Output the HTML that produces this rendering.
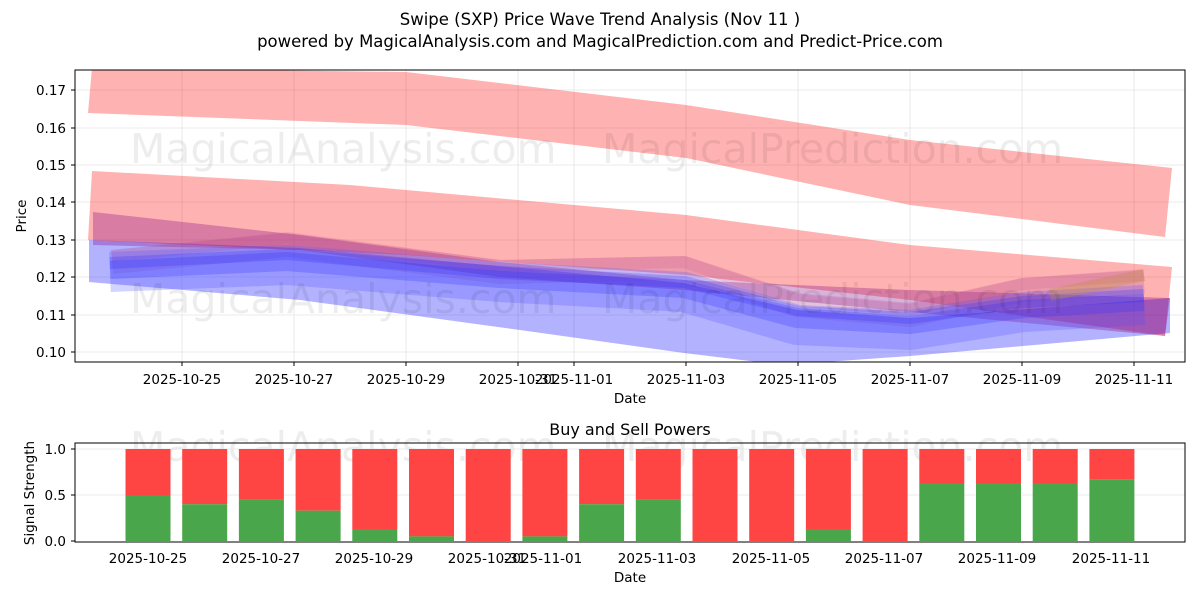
<!DOCTYPE html>
<html><head><meta charset="utf-8"><style>
body{margin:0;background:#fff;font-family:"Liberation Sans","DejaVu Sans",sans-serif;}
</style></head><body>
<svg width="1200" height="600" xmlns="http://www.w3.org/2000/svg" font-family="DejaVu Sans, Liberation Sans, sans-serif">
<rect width="1200" height="600" fill="#fff"/>
<text x="600" y="25" text-anchor="middle" font-size="16.5">Swipe (SXP) Price Wave Trend Analysis (Nov 11 )</text>
<text x="600" y="47" text-anchor="middle" font-size="16.5">powered by MagicalAnalysis.com and MagicalPrediction.com and Predict-Price.com</text>
<defs><clipPath id="c1"><rect x="75" y="70" width="1110" height="292"/></clipPath></defs>
<g stroke="#e5e5e5" stroke-width="0.8">
<line x1="182" y1="70" x2="182" y2="362"/><line x1="294" y1="70" x2="294" y2="362"/><line x1="406" y1="70" x2="406" y2="362"/><line x1="518" y1="70" x2="518" y2="362"/><line x1="574" y1="70" x2="574" y2="362"/><line x1="686" y1="70" x2="686" y2="362"/><line x1="798" y1="70" x2="798" y2="362"/><line x1="910" y1="70" x2="910" y2="362"/><line x1="1022" y1="70" x2="1022" y2="362"/><line x1="1134" y1="70" x2="1134" y2="362"/>
<line x1="75" y1="90" x2="1185" y2="90"/><line x1="75" y1="128" x2="1185" y2="128"/><line x1="75" y1="165" x2="1185" y2="165"/><line x1="75" y1="202" x2="1185" y2="202"/><line x1="75" y1="240" x2="1185" y2="240"/><line x1="75" y1="277" x2="1185" y2="277"/><line x1="75" y1="315" x2="1185" y2="315"/><line x1="75" y1="352" x2="1185" y2="352"/>
</g>
<g clip-path="url(#c1)">
<polygon points="92,68 406,72 686,105 910,140 1172,168 1165,237 910,205 686,158 406,125 88,113" fill="#ff0000" fill-opacity="0.3"/>
<polygon points="92,171 350,185 686,215 910,245 1172,267 1165,336 910,300 686,275 406,255 88,240" fill="#ff0000" fill-opacity="0.3"/>
<polygon points="89,240 300,248 520,268 684,283 797,310 910,318 1170,298 1170,333 910,356 783,365 684,353 520,330 300,300 89,282" fill="#0000ff" fill-opacity="0.3"/>
<polygon points="93,212 300,235 500,262 684,280 910,290 1170,298 1165,336 910,312 684,290 500,277 300,250 93,245" fill="#800080" fill-opacity="0.3"/>
<g fill="none" stroke-linejoin="round" stroke-linecap="butt">
<polyline points="112,262 287,245 500,272 684,268 797,305 910,315 1023,290 1144,282" stroke="#a040a0" stroke-opacity="0.2" stroke-width="24"/>
<polyline points="112,256 287,238 500,266 684,262 797,300 910,310 1023,284 1144,275" stroke="#c04080" stroke-opacity="0.15" stroke-width="12"/>
<polyline points="110,272 287,265 500,282 684,292 797,325 910,330 1023,312 1144,305" stroke="#5050ff" stroke-opacity="0.25" stroke-width="40"/>
<polyline points="110,268 287,260 500,277 684,287 797,317 910,323 1023,307 1144,300" stroke="#3030ff" stroke-opacity="0.25" stroke-width="22"/>
<polyline points="110,265 287,256 500,275 684,284 797,312 910,320 1023,304 1144,298" stroke="#2020ff" stroke-opacity="0.2" stroke-width="8"/>
<polyline points="1050,295 1144,275" stroke="#c09040" stroke-opacity="0.35" stroke-width="12"/>
</g>
</g>
<g fill="#000" fill-opacity="0.07" font-size="41">
<text x="130" y="163">MagicalAnalysis.com</text><text x="602" y="163">MagicalPrediction.com</text>
<text x="130" y="313">MagicalAnalysis.com</text><text x="602" y="313">MagicalPrediction.com</text>
<text x="130" y="461">MagicalAnalysis.com</text><text x="602" y="461">MagicalPrediction.com</text>
</g>
<rect x="75" y="70" width="1110" height="292" fill="none" stroke="#000" stroke-width="1"/>
<g font-size="13.5" text-anchor="end">
<text x="66" y="95">0.17</text><text x="66" y="133">0.16</text><text x="66" y="170">0.15</text><text x="66" y="207">0.14</text><text x="66" y="245">0.13</text><text x="66" y="282">0.12</text><text x="66" y="320">0.11</text><text x="66" y="357">0.10</text>
</g>
<g stroke="#000"><line x1="71" y1="90" x2="75" y2="90"/><line x1="71" y1="128" x2="75" y2="128"/><line x1="71" y1="165" x2="75" y2="165"/><line x1="71" y1="202" x2="75" y2="202"/><line x1="71" y1="240" x2="75" y2="240"/><line x1="71" y1="277" x2="75" y2="277"/><line x1="71" y1="315" x2="75" y2="315"/><line x1="71" y1="352" x2="75" y2="352"/></g>
<g font-size="13.5" text-anchor="middle">
<text x="182" y="384">2025-10-25</text><text x="294" y="384">2025-10-27</text><text x="406" y="384">2025-10-29</text><text x="518" y="384">2025-10-31</text><text x="574" y="384">2025-11-01</text><text x="686" y="384">2025-11-03</text><text x="798" y="384">2025-11-05</text><text x="910" y="384">2025-11-07</text><text x="1022" y="384">2025-11-09</text><text x="1134" y="384">2025-11-11</text>
<text x="630" y="403">Date</text>
<text x="26" y="216" transform="rotate(-90 26 216)">Price</text>
<text x="630" y="435" font-size="16">Buy and Sell Powers</text>
<text x="630" y="582">Date</text>
<text x="34" y="493" transform="rotate(-90 34 493)">Signal Strength</text>
</g>
<g stroke="#000"><line x1="182" y1="362" x2="182" y2="366"/><line x1="294" y1="362" x2="294" y2="366"/><line x1="406" y1="362" x2="406" y2="366"/><line x1="518" y1="362" x2="518" y2="366"/><line x1="574" y1="362" x2="574" y2="366"/><line x1="686" y1="362" x2="686" y2="366"/><line x1="798" y1="362" x2="798" y2="366"/><line x1="910" y1="362" x2="910" y2="366"/><line x1="1022" y1="362" x2="1022" y2="366"/><line x1="1134" y1="362" x2="1134" y2="366"/></g>
<g stroke="#e5e5e5" stroke-width="0.8"><line x1="75" y1="449" x2="1185" y2="449"/><line x1="75" y1="495" x2="1185" y2="495"/></g>
<g id="bars"></g>
<rect x="75" y="443" width="1110" height="99" fill="none" stroke="#000" stroke-width="1"/>
<g font-size="13.5" text-anchor="end"><text x="66" y="454">1.0</text><text x="66" y="500">0.5</text><text x="66" y="546">0.0</text></g>
<g stroke="#000"><line x1="71" y1="449" x2="75" y2="449"/><line x1="71" y1="495" x2="75" y2="495"/><line x1="71" y1="541" x2="75" y2="541"/></g>
<g font-size="13.5" text-anchor="middle">
<text x="148" y="563">2025-10-25</text><text x="261" y="563">2025-10-27</text><text x="374" y="563">2025-10-29</text><text x="487" y="563">2025-10-31</text><text x="543" y="563">2025-11-01</text><text x="657" y="563">2025-11-03</text><text x="771" y="563">2025-11-05</text><text x="884" y="563">2025-11-07</text><text x="997" y="563">2025-11-09</text><text x="1111" y="563">2025-11-11</text>
</g>
</svg>
<script>
var g=[0.5,0.4,0.45,0.33,0.12,0.05,0,0.05,0.4,0.45,0,0,0.12,0,0.62,0.62,0.62,0.67];
var s='';for(var i=0;i<18;i++){var cx=148+i*56.7,x=cx-22.5;var gy=541-g[i]*92;
s+='<rect x="'+x+'" y="449" width="45" height="'+(gy-449)+'" fill="#ff4444"/>';
s+='<rect x="'+x+'" y="'+gy+'" width="45" height="'+(541-gy)+'" fill="#4aa64a"/>';}
document.getElementById('bars').innerHTML=s;
</script>
</body></html>
